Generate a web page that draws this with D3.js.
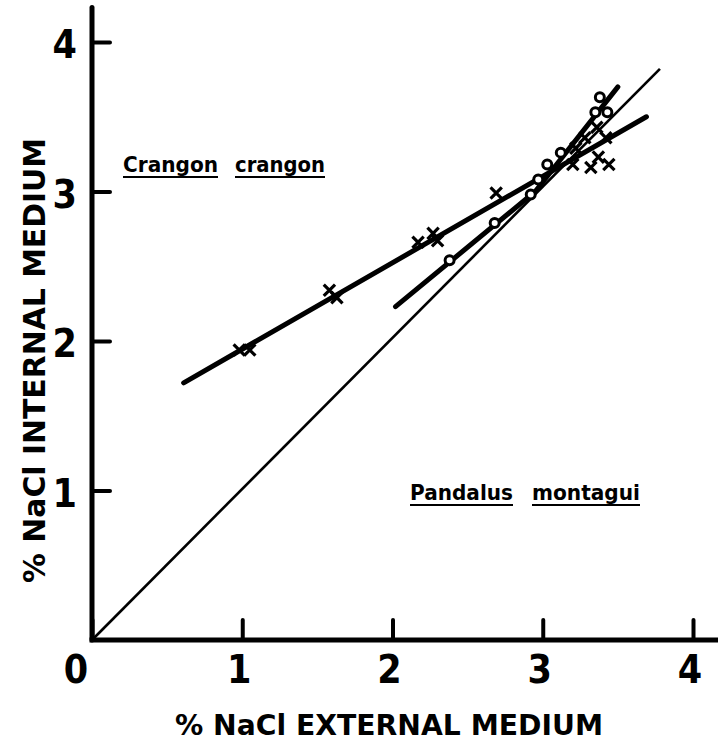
<!DOCTYPE html>
<html>
<head>
<meta charset="utf-8">
<script src="https://cdn.jsdelivr.net/npm/d3@7"></script>
<style>
  html, body { margin: 0; padding: 0; background: #fff; }
  svg { display: block; }
  text { fill: #000; }
</style>
</head>
<body>
<svg id="chart" width="718" height="742"></svg>
<script>
// ---- data ----
const xTickValues = [0, 1, 2, 3, 4];
const yTickValues = [1, 2, 3, 4];
const xTitle = "% NaCl EXTERNAL MEDIUM";
const yTitle = "% NaCl INTERNAL MEDIUM";
const speciesCrangon = ["Crangon", "crangon"];
const speciesPandalus = ["Pandalus", "montagui"];

// isosmotic line
const isoLine = [[0, 0], [3.78, 3.82]];
// fitted lines
const crangonLine = [[0.61, 1.72], [3.69, 3.50]];
const pandalusLine = [[2.02, 2.23], [2.95, 3.00], [3.50, 3.70]];

// Crangon crangon points (crosses)
const crangonX = [0.98, 1.05, 1.58, 1.63, 2.17, 2.27, 2.30, 2.69, 3.22, 3.28, 3.36, 3.42, 3.20, 3.32, 3.37, 3.44];
const crangonY = [1.94, 1.94, 2.34, 2.29, 2.66, 2.72, 2.67, 2.99, 3.29, 3.36, 3.43, 3.36, 3.18, 3.16, 3.23, 3.18];
// Pandalus montagui points (circles)
const pandalusX = [2.38, 2.68, 2.92, 2.97, 3.03, 3.12, 3.35, 3.38, 3.43];
const pandalusY = [2.54, 2.79, 2.98, 3.08, 3.18, 3.26, 3.53, 3.63, 3.53];

// ---- drawing ----
const svg = d3.select("#chart");
const x = d3.scaleLinear().domain([0, 4.2]).range([92, 92 + 4.2 * 150.25]);
const y = d3.scaleLinear().domain([0, 4.23]).range([640, 640 - 4.23 * 149.5]);

const line = d3.line().x(d => x(d[0])).y(d => y(d[1]));

// axes
const xAxis = d3.axisBottom(x).tickValues(xTickValues).tickSize(-20).tickFormat("");
const yAxis = d3.axisLeft(y).tickValues(yTickValues).tickSize(-18).tickFormat("");

const gx = svg.append("g").attr("transform", `translate(0,${y(0)})`).call(xAxis);
const gy = svg.append("g").attr("transform", `translate(${x(0)},0)`).call(yAxis);
[gx, gy].forEach(g => {
  g.select(".domain").remove();
  g.selectAll(".tick line").attr("stroke", "#000").attr("stroke-width", 4).attr("stroke-linecap", "round");
});
// axis lines
svg.append("line").attr("x1", x(0)).attr("x2", x(4.2)).attr("y1", y(0)).attr("y2", y(0))
  .attr("stroke", "#000").attr("stroke-width", 5).attr("stroke-linecap", "square");
svg.append("line").attr("x1", x(0)).attr("x2", x(0)).attr("y1", y(0)).attr("y2", y(4.23))
  .attr("stroke", "#000").attr("stroke-width", 5).attr("stroke-linecap", "round");

const tickFont = "'Liberation Sans Narrow', 'DejaVu Sans Condensed', 'Liberation Sans', sans-serif";
// tick labels
svg.append("g").selectAll("text").data(xTickValues).join("text")
  .attr("x", d => x(d) + (d === 0 ? -16 : -3))
  .attr("y", 683)
  .attr("text-anchor", "middle")
  .attr("font-family", tickFont)
  .attr("font-weight", "bold")
  .attr("font-size", 39)
  .text(d => d);

svg.append("g").selectAll("text").data(yTickValues).join("text")
  .attr("x", 77)
  .attr("y", d => y(d) + 16)
  .attr("text-anchor", "end")
  .attr("font-family", tickFont)
  .attr("font-weight", "bold")
  .attr("font-size", 39)
  .text(d => d);

// axis titles
svg.append("text")
  .attr("x", 175).attr("y", 735)
  .attr("font-family", "DejaVu Sans, sans-serif")
  .attr("font-weight", "bold")
  .attr("font-size", 28)
  .attr("textLength", 428)
  .attr("lengthAdjust", "spacingAndGlyphs")
  .text(xTitle);

svg.append("text")
  .attr("transform", "translate(45,583) rotate(-90)")
  .attr("x", 0).attr("y", 0)
  .attr("font-family", "DejaVu Sans, sans-serif")
  .attr("font-weight", "bold")
  .attr("font-size", 30)
  .attr("textLength", 445)
  .attr("lengthAdjust", "spacingAndGlyphs")
  .text(yTitle);

// lines
svg.append("path").attr("d", line(isoLine)).attr("fill", "none")
  .attr("stroke", "#000").attr("stroke-width", 2.6);
svg.append("path").attr("d", line(crangonLine)).attr("fill", "none")
  .attr("stroke", "#000").attr("stroke-width", 5).attr("stroke-linecap", "round");
svg.append("path").attr("d", line(pandalusLine)).attr("fill", "none")
  .attr("stroke", "#000").attr("stroke-width", 5).attr("stroke-linecap", "round")
  .attr("stroke-linejoin", "round");

// Crangon crosses
const crossSym = d3.symbol().type(d3.symbolX).size(85);
svg.append("g").selectAll("path").data(crangonX.map((v, i) => [v, crangonY[i]])).join("path")
  .attr("transform", d => `translate(${x(d[0])},${y(d[1])})`)
  .attr("d", crossSym)
  .attr("fill", "none")
  .attr("stroke", "#000")
  .attr("stroke-width", 3.2);

// Pandalus circles
svg.append("g").selectAll("circle").data(pandalusX.map((v, i) => [v, pandalusY[i]])).join("circle")
  .attr("cx", d => x(d[0])).attr("cy", d => y(d[1]))
  .attr("r", 4.5)
  .attr("fill", "#fff")
  .attr("stroke", "#000")
  .attr("stroke-width", 3);

// species labels with underlines
function speciesLabel(words, xs, widths, baseline, fs) {
  words.forEach((w, i) => {
    svg.append("text")
      .attr("x", xs[i]).attr("y", baseline)
      .attr("font-family", "DejaVu Sans, sans-serif")
      .attr("font-weight", "bold")
      .attr("font-size", fs)
      .attr("textLength", widths[i])
      .attr("lengthAdjust", "spacingAndGlyphs")
      .text(w);
    svg.append("line")
      .attr("x1", xs[i]).attr("x2", xs[i] + widths[i])
      .attr("y1", baseline + 5).attr("y2", baseline + 5)
      .attr("stroke", "#000").attr("stroke-width", 2.2);
  });
}
speciesLabel(speciesCrangon, [123, 235], [95, 90], 172, 21);
speciesLabel(speciesPandalus, [410, 532], [103, 108], 500, 21);
</script>
</body>
</html>
